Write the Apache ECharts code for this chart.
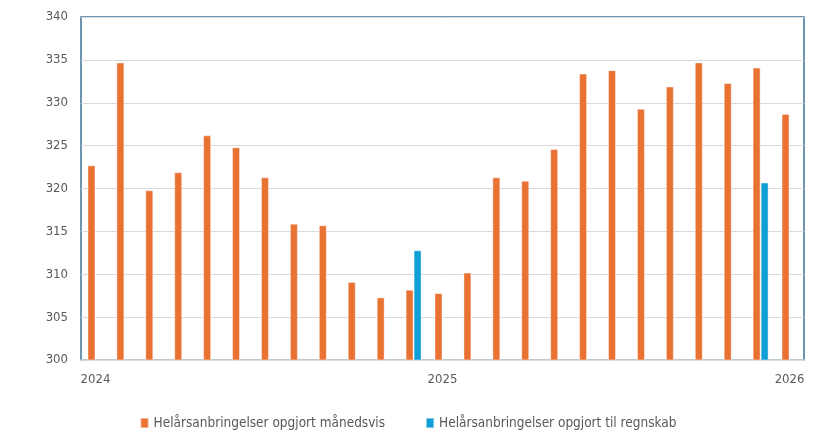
<!DOCTYPE html>
<html>
<head>
<meta charset="utf-8">
<script src="https://cdn.jsdelivr.net/npm/echarts@6/dist/echarts.min.js"></script>
<style>
  html, body { margin: 0; padding: 0; background: #fff; }
  #chart { width: 816px; height: 443px; }
</style>
</head>
<body>
<div id="chart"></div>
<script>
// måneder jan 2024 - jan 2026
const months = [
  'jan 2024', 'feb 2024', 'mar 2024', 'apr 2024', 'maj 2024', 'jun 2024',
  'jul 2024', 'aug 2024', 'sep 2024', 'okt 2024', 'nov 2024', 'dec 2024',
  'jan 2025', 'feb 2025', 'mar 2025', 'apr 2025', 'maj 2025', 'jun 2025',
  'jul 2025', 'aug 2025', 'sep 2025', 'okt 2025', 'nov 2025', 'dec 2025',
  'jan 2026'
];
const monthly = [
  322.7, 334.7, 319.8, 321.9, 326.2, 324.8, 321.3, 315.9, 315.7, 309.1, 307.3, 308.2,
  307.8, 310.2, 321.3, 320.9, 324.6, 333.4, 333.8, 329.3, 331.9, 334.7, 332.3, 334.1,
  328.7
];
const accounts = [
  null, null, null, null, null, null, null, null, null, null, null, 312.8,
  null, null, null, null, null, null, null, null, null, null, null, 320.7,
  null
];
const yearLabels = { 0: '2024', 12: '2025', 24: '2026' };

const font = "'DejaVu Sans Condensed', 'Liberation Sans Narrow', Roboto, sans-serif";
const chart = echarts.init(document.getElementById('chart'));

chart.setOption({
  animation: false,
  backgroundColor: '#ffffff',
  grid: {
    left: 81,
    right: 12,
    top: 17,
    bottom: 83,
    show: true,
    borderColor: '#3b7396',
    borderWidth: 1.5
  },
  legend: {
    bottom: 8,
    left: 'center',
    itemWidth: 8,
    itemHeight: 10,
    itemGap: 40,
    icon: 'rect',
    textStyle: { color: '#595959', fontSize: 13.5, fontFamily: font }
  },
  xAxis: {
    type: 'category',
    data: months,
    axisLine: { lineStyle: { color: '#d9d9d9', width: 1.5 } },
    axisTick: { show: false },
    axisLabel: {
      interval: (i) => i % 12 === 0,
      formatter: (v, i) => yearLabels[i] || '',
      color: '#595959',
      fontSize: 13,
      fontFamily: font,
      margin: 13
    }
  },
  yAxis: {
    type: 'value',
    min: 300,
    max: 340,
    interval: 5,
    axisLine: { show: false },
    axisTick: { show: false },
    axisLabel: { color: '#595959', fontSize: 13, fontFamily: font, margin: 13 },
    splitLine: { lineStyle: { color: '#d9d9d9', width: 1 } }
  },
  series: [
    {
      name: 'Helårsanbringelser opgjort månedsvis',
      type: 'bar',
      data: monthly,
      barWidth: 8,
      barGap: '0%',
      itemStyle: { color: '#e97132', borderColor: 'rgba(255,255,255,0.45)', borderWidth: 1 }
    },
    {
      name: 'Helårsanbringelser opgjort til regnskab',
      type: 'bar',
      data: accounts,
      barWidth: 8,
      barGap: '0%',
      itemStyle: { color: '#0f9ed5', borderColor: 'rgba(255,255,255,0.45)', borderWidth: 1 }
    }
  ]
});
</script>
</body>
</html>
